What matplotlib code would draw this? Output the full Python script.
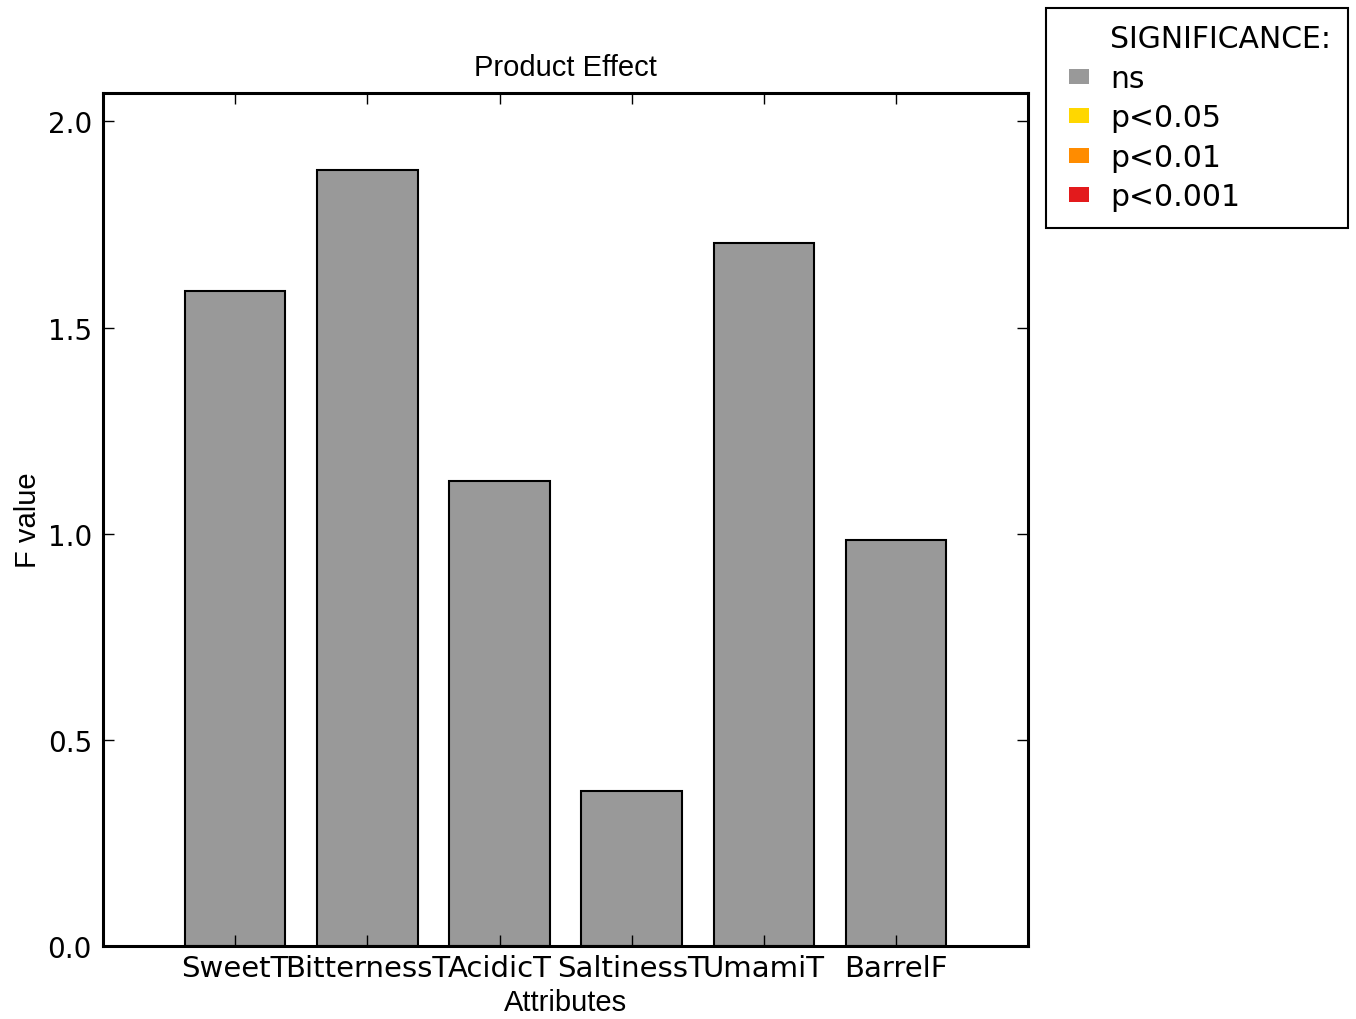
import matplotlib
matplotlib.use("Agg")
import matplotlib.pyplot as plt
import matplotlib.patches as mpatches
from matplotlib.legend_handler import HandlerPatch
import numpy as np

# data
attributes = ["SweetT", "BitternessT", "AcidicT", "SaltinessT", "UmamiT", "BarrelF"]
f_values = [1.588, 1.881, 1.127, 0.376, 1.704, 0.984]
significance = ["ns", "ns", "ns", "ns", "ns", "ns"]

sig_labels = ["ns", "p<0.05", "p<0.01", "p<0.001"]
sig_colors = ["#999999", "#FFD700", "#FF8C00", "#E31A1C"]
color_map = dict(zip(sig_labels, sig_colors))

# narrow-ish face for title and axis labels
narrow = ["Liberation Sans", "DejaVu Sans"]

fig = plt.figure(figsize=(13.56, 10.2), dpi=100)
ax = fig.add_axes([0.0760, 0.0716, 0.6822, 0.8363])

x = np.arange(len(attributes))
bar_colors = [color_map[s] for s in significance]
ax.bar(x, f_values, width=0.76, color=bar_colors, edgecolor="black", linewidth=1.5)

ax.set_xlim(-1, len(attributes))
ax.set_ylim(0, max(f_values) * 1.1)
ax.set_xticks(x)
ax.set_xticklabels(attributes, fontsize=21)
yt = np.arange(0, 2.01, 0.5)
ax.set_yticks(yt)
ax.set_yticklabels(["%.1f" % v for v in yt], fontsize=20)

ax.tick_params(direction="in", length=8, width=1, top=True, right=True, pad=8)
ax.tick_params(axis="x", pad=6)
for sp in ax.spines.values():
    sp.set_linewidth(2.2)

ax.set_title("Product Effect", fontsize=21, family=narrow, pad=13)
ax.set_xlabel("Attributes", fontsize=21, family=narrow, labelpad=4)
ax.set_ylabel("F value", fontsize=21, family=narrow, labelpad=4)


# small square sitting in the right part of the handle box
def small_square(legend, orig_handle, xdescent, ydescent, width, height, fontsize):
    return mpatches.Rectangle((-xdescent + width * 0.25, -ydescent), width * 0.75, height)


# legend: header row plus one patch per significance level
handles = [mpatches.Patch(color="none", label="SIGNIFICANCE:")]
for lab, col in zip(sig_labels, sig_colors):
    handles.append(mpatches.Patch(facecolor=col, edgecolor="none", label=lab))
leg = fig.legend(handles=handles, loc="upper left",
                 bbox_to_anchor=(1046 / 1356, 1 - 9 / 1020),
                 borderaxespad=0, fontsize=21.5, handlelength=0.9, handleheight=0.4,
                 handletextpad=0.7, labelspacing=0.35, borderpad=0.55,
                 fancybox=False, framealpha=1,
                 handler_map={mpatches.Patch: HandlerPatch(patch_func=small_square)})
leg.get_frame().set_edgecolor("black")
leg.get_frame().set_linewidth(1.5)

fig.savefig("out.png", dpi=100)
